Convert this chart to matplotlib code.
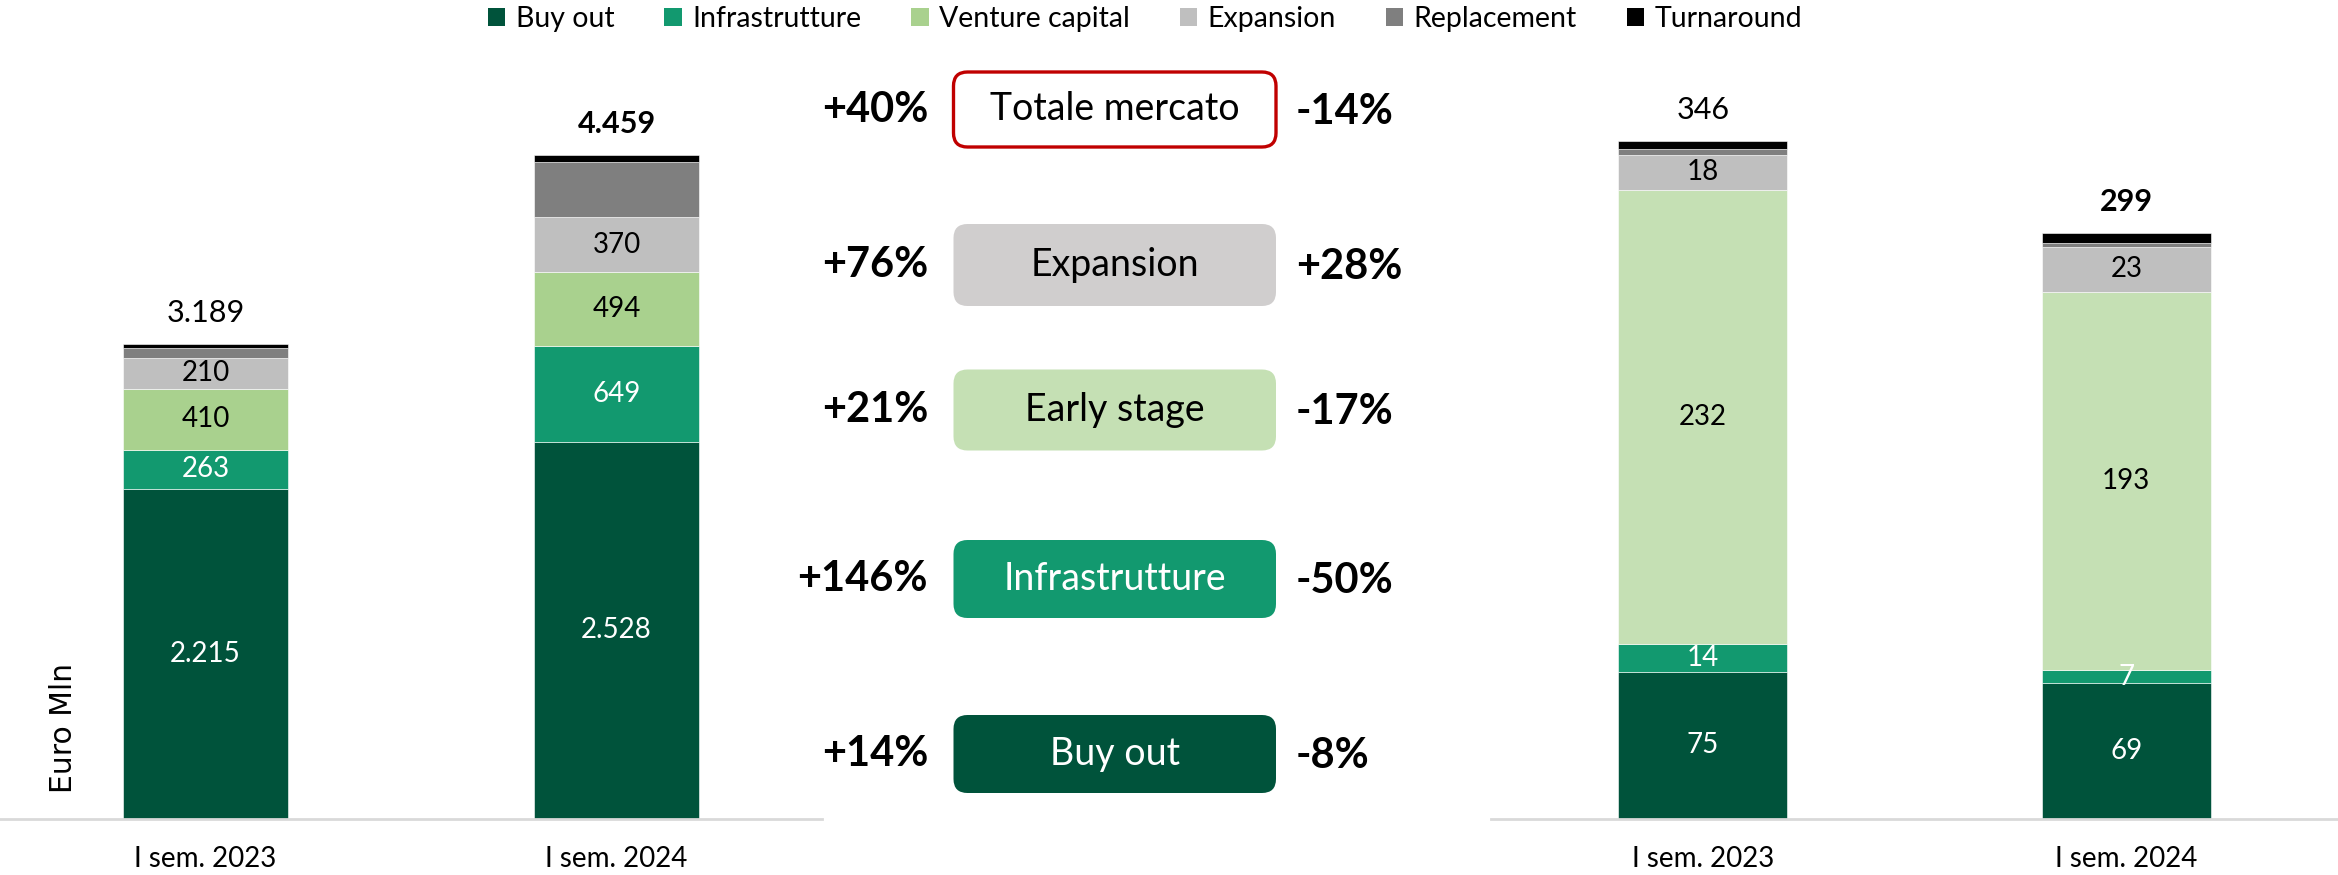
import matplotlib
matplotlib.use("Agg")
import matplotlib.pyplot as plt
from matplotlib.patches import FancyBboxPatch, Patch

# ------------------------------------------
# Data
# ------------------------------------------
periods = ['I sem. 2023', 'I sem. 2024']
series = ['Buy out', 'Infrastrutture', 'Venture capital', 'Expansion', 'Replacement', 'Turnaround']

# Totale mercato (Euro Mln)
buyout_tot = [2215, 2528]
infra_tot = [263, 649]
vc_tot = [410, 494]
exp_tot = [210, 370]
repl_tot = [62, 371]
turn_tot = [29, 47]
total_tot = [3189, 4459]

# Venture capital / early stage market (Euro Mln)
buyout_vc = [75, 69]
infra_vc = [14, 7]
vc_vc = [232, 193]
exp_vc = [18, 23]
repl_vc = [3, 2]
turn_vc = [4, 5]
total_vc = [346, 299]

# Middle panel: yoy changes
stage_names = ['Totale mercato', 'Expansion', 'Early stage', 'Infrastrutture', 'Buy out']
chg_total = ['+40%', '+76%', '+21%', '+146%', '+14%']
chg_vc = ['-14%', '+28%', '-17%', '-50%', '-8%']

# ------------------------------------------
# Style
# ------------------------------------------
plt.rcParams['font.family'] = ['Lato', 'DejaVu Sans']

DARK = '#00533B'
TEAL = '#12996F'
colors_left = [DARK, TEAL, '#A9D18E', '#BFBFBF', '#7F7F7F', '#000000']
colors_right = [DARK, TEAL, '#C5E0B4', '#BFBFBF', '#7F7F7F', '#000000']
label_colors = ['white', 'white', 'black', 'black', None, None]

W, H = 2338, 875
fig = plt.figure(figsize=(W / 100, H / 100), dpi=100)


def px_axes(x0, x1, y_bottom, y_top):
    return fig.add_axes([x0 / W, 1 - y_bottom / H, (x1 - x0) / W, (y_bottom - y_top) / H])


def fmt(v):
    return f"{v:,}".replace(',', '.')


def stacked(ax, stacks, colors, totals, bold_total):
    x = list(range(len(periods)))
    bottom = [0] * len(periods)
    for vals, col, lc in zip(stacks, colors, label_colors):
        bars = ax.bar(x, vals, 0.4, bottom=bottom, color=col, edgecolor='white', linewidth=0.4)
        if lc is not None:
            ax.bar_label(bars, labels=[fmt(v) for v in vals], label_type='center',
                         color=lc, fontsize=20)
        bottom = [b + v for b, v in zip(bottom, vals)]
    for i, t in enumerate(totals):
        ax.annotate(fmt(t), (i, bottom[i]), xytext=(0, 12), textcoords='offset points',
                    ha='center', va='bottom', fontsize=22,
                    fontweight='bold' if bold_total[i] else 'normal')
    ax.set_xticks(x)
    ax.set_xticklabels(periods, fontsize=20)
    ax.tick_params(axis='x', length=0, pad=20)
    ax.set_yticks([])
    ax.set_xlim(-0.5, 1.5)
    for s in ['top', 'right', 'left']:
        ax.spines[s].set_visible(False)
    ax.spines['bottom'].set_color('#D9D9D9')
    ax.spines['bottom'].set_linewidth(2)
    ax.patch.set_alpha(0)


BASE = 818.5
TOP = 45

ax1 = px_axes(0, 822, BASE, TOP)
stacked(ax1, [buyout_tot, infra_tot, vc_tot, exp_tot, repl_tot, turn_tot],
        colors_left, total_tot, [False, True])
ax1.set_ylim(0, (BASE - TOP) / 0.1488)

ax2 = px_axes(1491, W, BASE, TOP)
stacked(ax2, [buyout_vc, infra_vc, vc_vc, exp_vc, repl_vc, turn_vc],
        colors_right, total_vc, [False, True])
ax2.set_ylim(0, (BASE - TOP) / 1.958)

# ------------------------------------------
# Overlay: legend, y label, middle comparison boxes
# ------------------------------------------
ov = fig.add_axes([0, 0, 1, 1])
ov.set_xlim(0, W)
ov.set_ylim(H, 0)
ov.axis('off')

ov.text(63, 728, 'Euro Mln', rotation=90, ha='center', va='center',
        fontsize=21.5, family='DejaVu Sans')

box_fill = ['white', '#D0CECE', '#C5E0B4', TEAL, DARK]
box_edge = ['#C00000', '#D0CECE', '#C5E0B4', TEAL, DARK]
box_text = ['black', 'black', 'black', 'white', 'white']
box_y = [109.5, 265, 410, 579, 754]
box_h = [75, 82, 81, 78, 78]
for name, l, r, fc, ec, tc, yc, h in zip(stage_names, chg_total, chg_vc, box_fill,
                                         box_edge, box_text, box_y, box_h):
    ov.add_patch(FancyBboxPatch((953.5, yc - h / 2), 322.5, h,
                                boxstyle='round,pad=0,rounding_size=14',
                                facecolor=fc, edgecolor=ec,
                                linewidth=2.4 if fc == 'white' else 0))
    ov.text(1115, yc, name, ha='center', va='center', fontsize=27, color=tc)
    ov.text(928, yc, l, ha='right', va='center', fontsize=30, fontweight='bold')
    ov.text(1296, yc + 2, r, ha='left', va='center', fontsize=30, fontweight='bold')

handles = [Patch(facecolor=c, edgecolor='none') for c in colors_left]
fig.legend(handles, series, loc='center', bbox_to_anchor=(0.4897, 1 - 19 / H), ncol=6,
           frameon=False, fontsize=20.5, handlelength=0.62, handleheight=0.62,
           handletextpad=0.36, columnspacing=1.75, borderpad=0, borderaxespad=0)

fig.savefig('out.png', dpi=100)
